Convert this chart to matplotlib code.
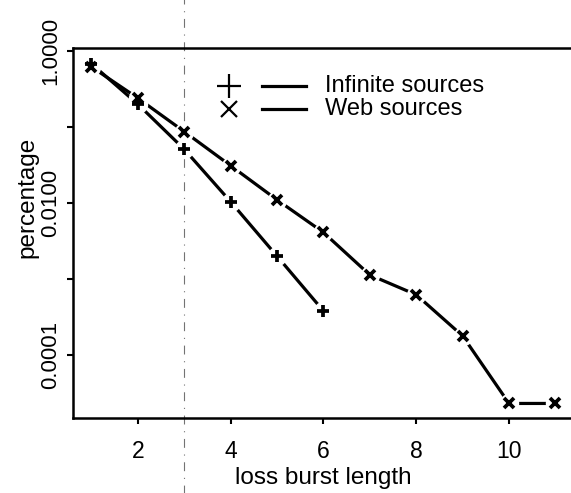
import matplotlib
matplotlib.use("Agg")
import matplotlib.pyplot as plt
from matplotlib.ticker import FixedLocator, NullLocator

plt.rcParams['font.family'] = ['Liberation Sans', 'DejaVu Sans']

# data
burst_inf = [1, 2, 3, 4, 5, 6]
pct_inf = [0.68, 0.20, 0.051, 0.0104, 0.0020, 0.00038]
burst_web = [1, 2, 3, 4, 5, 6, 7, 8, 9, 10, 11]
pct_web = [0.62, 0.24, 0.087, 0.031, 0.011, 0.0041, 0.00113, 0.00062,
           0.000178, 0.000023, 0.000023]
xticks = [2, 4, 6, 8, 10]
yticks = [1.0, 0.1, 0.01, 0.001, 0.0001]
ytick_labels = ["1.0000", "", "0.0100", "", "0.0001"]
legend_labels = ["Infinite sources", "Web sources"]

W, H = 571, 493
fig = plt.figure(figsize=(W / 100, H / 100), dpi=100)
x0, x1, ytop, ybot = 72.8, 574.0, 48.0, 418.0
ax = fig.add_axes([x0 / W, 1 - ybot / H, (x1 - x0) / W, (ybot - ytop) / H])

ax.set_yscale('log')
ax.set_xlim(0.6, 11.4)
ax.set_ylim(1.48e-5, 1.095)

lw = 2.3
# lines
ax.plot(burst_inf, pct_inf, color='black', lw=lw, zorder=2)
ax.plot(burst_web, pct_web, color='black', lw=lw, zorder=2)
# gaps around points (R type="b")
ax.plot(burst_inf, pct_inf, ls='none', marker='o', ms=14, mfc='white', mec='none', zorder=3)
ax.plot(burst_web, pct_web, ls='none', marker='o', ms=14, mfc='white', mec='none', zorder=3)
# markers
ax.plot(burst_inf, pct_inf, ls='none', marker='+', ms=8.5, mew=2.7, color='black', zorder=4)
ax.plot(burst_web, pct_web, ls='none', marker='x', ms=7.5, mew=2.7, color='black', zorder=4)

# dashed vertical line
ax.axvline(3, ymin=-0.21, ymax=1.14, clip_on=False, color='0.45', lw=0.8,
           ls=(0, (8, 6, 1, 6)), zorder=1)

# ticks
ax.xaxis.set_major_locator(FixedLocator(xticks))
ax.set_xticklabels([str(t) for t in xticks])
ax.yaxis.set_major_locator(FixedLocator(yticks))
ax.yaxis.set_minor_locator(NullLocator())
ax.set_yticklabels(ytick_labels, rotation=90, va='center')
ax.tick_params(axis='x', length=4.5, width=1.5, pad=11, labelsize=16.5)
ax.tick_params(axis='y', length=4.5, width=1.5, pad=4, labelsize=16)

for side in ['left', 'bottom', 'top']:
    ax.spines[side].set_linewidth(1.8)
ax.spines['right'].set_visible(False)

# axis labels
fig.text(323 / W, 1 - 478 / H, "loss burst length", ha='center', va='center', fontsize=17.5)
fig.text(27 / W, 1 - 197 / H, "percentage", ha='center', va='center', rotation=90, fontsize=17.5)

# legend (manual, R style)
def ax_x(px):
    return (px - x0) / (x1 - x0)

def ax_y(py):
    return 1 - (py - ytop) / (ybot - ytop)

rows = [(86, '+', 17, 1.6), (109, 'x', 12, 1.6)]
for (py, mk, ms, mew), lab in zip(rows, legend_labels):
    ax.plot([ax_x(229)], [ax_y(py)], marker=mk, ms=ms, mew=mew, color='black',
            transform=ax.transAxes, clip_on=False)
    ax.plot([ax_x(262), ax_x(306)], [ax_y(py), ax_y(py)], color='black', lw=2.3,
            transform=ax.transAxes)
    ax.text(ax_x(325), ax_y(py), lab, transform=ax.transAxes, ha='left', va='center',
            fontsize=17)

fig.savefig("out.png", dpi=100)
